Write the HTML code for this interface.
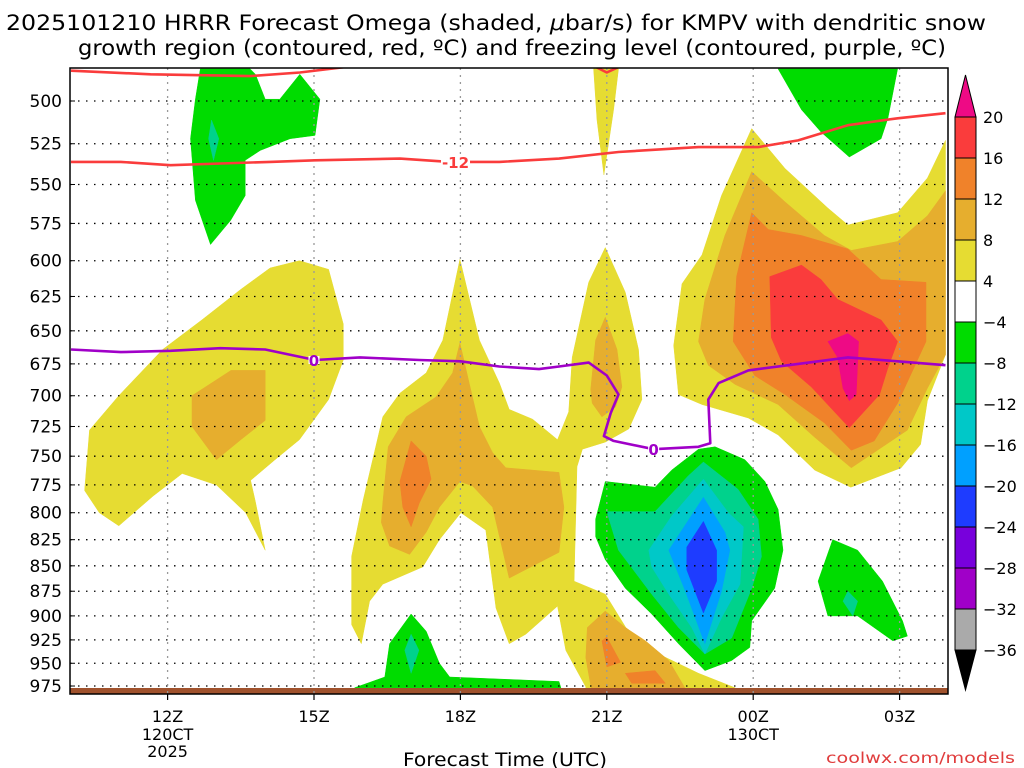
<!DOCTYPE html>
<html><head><meta charset="utf-8"><style>
html,body{margin:0;padding:0;background:#fff;}
svg{display:block;font-family:"DejaVu Sans","Liberation Sans",sans-serif;}
</style></head><body>
<svg id="chart" width="1024" height="768" xmlns="http://www.w3.org/2000/svg">
<text x="6" y="30" font-size="21" textLength="980" lengthAdjust="spacingAndGlyphs" fill="#000">2025101210 HRRR Forecast Omega (shaded, <tspan font-style="italic">μ</tspan>bar/s) for KMPV with dendritic snow</text>
<text x="78" y="55" font-size="21" textLength="868" lengthAdjust="spacingAndGlyphs" fill="#000">growth region (contoured, red, ºC) and freezing level (contoured, purple, ºC)</text>
<g id="plot"></g>
<text x="505" y="766" font-size="19" text-anchor="middle" textLength="204" lengthAdjust="spacingAndGlyphs">Forecast Time (UTC)</text>
<text x="826" y="763" font-size="15" fill="#e03c3c" textLength="189" lengthAdjust="spacingAndGlyphs">coolwx.com/models</text>
</svg>
<script>
const pressureTicks=[500,525,550,575,600,625,650,675,700,725,750,775,800,825,850,875,900,925,950,975];
const timeTicks=[12,15,18,21,24,27];
const timeLabels=["12Z","15Z","18Z","21Z","00Z","03Z"];
const dateLabels={12:["120CT","2025"],24:["130CT"]};
const cbLevels=[20,16,12,8,4,-4,-8,-12,-16,-20,-24,-28,-32,-36];
const cbColors=["#fa3c3c","#f0822a","#e6ae2e","#e6dc32","#ffffff","#00dc00","#00d28c","#00c8c8","#00a0ff","#1e3cff","#7800dc","#a000c8","#aaaaaa"];

const yellowLeft=[[10.3,780],[10.4,728],[11.0,700],[11.9,664],[12.7,642],[13.5,620],[14.1,605],[14.7,600],[15.3,606],[15.6,645],[15.6,672],[15.3,703],[14.7,736],[14.2,753],[13.7,771],[13.8,790],[14.0,835],[13.6,800],[13.0,775],[12.3,765],[11.7,785],[11.0,812],[10.6,800]];
const goldLeft=[[12.5,700],[13.3,680],[14.0,680],[14.0,720],[13.5,736],[13.0,753],[12.5,725]];
const greenTopLeft=[[12.67,482],[12.57,499],[12.47,522],[12.57,560],[12.88,589],[13.29,573],[13.59,557],[13.59,535],[13.9,529],[14.51,522],[15.02,520],[15.12,499],[14.71,485],[14.3,499],[14.0,499],[13.8,485],[13.69,482]];
const tealTopLeft=[[12.9,511],[13.05,522],[12.94,535],[12.84,522]];
const yellowMid=[[15.97,929],[15.77,909],[15.77,841],[16.01,788],[16.41,717],[16.76,698],[17.3,682],[17.64,657],[17.99,599],[18.39,657],[18.8,690],[19.0,711],[19.48,719],[19.99,736],[20.22,713],[20.29,670],[20.63,615],[20.97,591],[21.38,622],[21.65,664],[21.72,703],[21.45,727],[20.97,738],[20.5,744],[20.39,759],[20.33,865],[20.97,878],[21.39,912],[22.06,940],[22.88,961],[23.63,977],[23.63,984],[20.57,984],[20.57,976],[20.16,936],[19.99,890],[19.34,919],[19.0,929],[18.73,892],[18.52,816],[18.01,800],[17.57,825],[17.23,851],[16.41,868],[16.14,885]];
const goldMid=[[16.41,791],[16.52,742],[16.89,717],[17.5,701],[17.84,682],[17.99,659],[18.18,690],[18.39,725],[18.66,747],[18.93,760],[20.02,764],[20.12,795],[20.02,837],[19.0,862],[18.66,795],[18.25,776],[17.99,772],[17.57,795],[17.3,818],[16.96,839],[16.55,831],[16.38,809]];
const orangeMid=[[16.76,772],[16.99,737],[17.3,750],[17.4,770],[17.16,791],[16.99,813],[16.82,795]];
const gold21=[[20.67,695],[20.77,657],[20.97,640],[21.21,664],[21.31,693],[21.18,709],[20.9,717],[20.7,706]];
const yellowTop21=[[20.73,482],[21.24,482],[21.14,505],[20.94,544],[20.8,511]];
const goldBottom=[[20.6,912],[20.97,895],[21.38,912],[21.79,926],[22.27,947],[22.61,978],[22.61,984],[20.7,984],[20.57,944]];
const orangeBottomA=[[20.9,926],[21.0,922],[21.28,949],[21.0,954]];
const orangeBottomB=[[21.38,961],[21.99,958],[22.2,972],[21.51,972]];
const greenBlob=[[20.77,806],[20.97,772],[21.99,777],[22.33,762],[22.88,744],[23.22,742],[23.83,753],[24.24,772],[24.51,797],[24.61,835],[24.44,872],[23.97,905],[23.93,933],[23.56,947],[23.01,958],[22.47,929],[21.92,898],[21.38,872],[20.97,844],[20.77,822]];
const tealBlob=[[21.0,799],[21.99,799],[22.67,767],[22.98,755],[23.69,779],[24.1,806],[24.17,841],[23.97,872],[23.56,923],[23.01,940],[22.47,912],[21.92,878],[21.24,835]];
const cyanBlob=[[21.86,835],[22.33,803],[22.98,770],[23.49,800],[23.8,813],[23.73,868],[23.35,902],[23.01,940],[22.74,912],[22.27,878],[21.92,851]];
const lightBlueBlob=[[22.27,835],[22.98,786],[23.42,818],[23.52,835],[23.35,875],[23.01,929],[22.61,875]];
const blueBlob=[[22.98,808],[23.25,835],[23.25,865],[22.98,897],[22.64,854],[22.64,832]];
const yellowRight=[[22.47,699],[22.37,661],[22.54,616],[22.95,596],[23.35,557],[23.97,516],[24.65,540],[25.53,565],[25.94,576],[26.96,568],[27.57,546],[27.94,523],[27.94,668],[27.57,704],[27.43,740],[27.03,760],[26.0,777],[25.26,762],[24.51,732],[23.9,718],[22.95,707]];
const goldRight=[[22.88,658],[23.01,627],[23.42,583],[23.97,542],[24.65,561],[25.46,583],[26.01,593],[26.96,587],[27.57,570],[27.94,554],[27.94,668],[27.57,694],[27.16,728],[26.01,760],[25.26,734],[24.51,707],[23.63,691],[23.08,676]];
const orangeRight=[[23.59,658],[23.66,611],[23.97,568],[24.31,579],[24.99,583],[25.94,592],[26.62,613],[27.54,615],[27.54,658],[26.96,706],[26.48,737],[26.01,745],[25.46,722],[24.65,699],[24.03,684]];
const redRight=[[24.34,611],[24.99,603],[25.39,613],[25.73,627],[26.62,642],[26.96,658],[26.76,678],[26.59,699],[25.97,726],[25.19,693],[24.58,673],[24.37,655]];
const pinkRight=[[25.53,658],[25.94,652],[26.16,658],[26.11,699],[25.97,704],[25.84,694],[25.73,670]];
const greenTopRight=[[24.51,482],[26.96,482],[26.76,510],[26.62,522],[25.97,533],[25.39,518],[24.99,505]];
const greenBottom17=[[16.55,929],[16.99,898],[17.3,916],[17.57,950],[17.78,965],[20.02,970],[20.06,977],[15.83,977],[16.45,965]];
const tealBottom17=[[16.99,919],[17.15,936],[16.99,961],[16.86,936]];
const greenRight02=[[25.63,825],[26.14,835],[26.65,865],[27.06,905],[27.16,921],[26.86,926],[26.14,900],[25.53,900],[25.33,865]];
const tealRight02=[[25.94,875],[26.14,885],[26.04,900],[25.84,885]];

const dgzLine=[[10.02,536],[11.04,536],[12.06,538],[13.08,537],[14.1,536],[15.02,535],[16.76,534],[17.78,536],[18.8,536],[20.02,534],[21.24,530],[22.88,527],[24.1,527],[24.92,523],[25.94,514],[26.96,510],[27.94,507]];
const dgzTopLine=[[10.02,483],[11.65,485],[13.69,486],[14.71,484],[15.63,481]];
const dgzTopLine21=[[20.78,481],[21.0,484],[21.24,481]];
const freezeLine=[[10.02,664],[11.04,666],[12.06,665],[13.08,663],[14.0,664],[15.02,672],[15.94,670],[17.16,672],[18.0,673],[18.8,677],[19.61,679],[20.02,677],[20.63,674],[21.0,684],[21.24,699],[21.08,714],[20.94,733],[21.14,737],[21.96,744],[22.88,742],[23.12,739],[23.08,703],[23.29,690],[23.9,680],[24.92,675],[25.94,670],[26.96,673],[27.94,676]];
const contourLabels=[[17.9,536,"-12","#fa3c3c"],[15.0,672,"0","#a000c8"],[21.96,744,"0","#a000c8"]];

const X0=70,X1=948,Y0=68,Y1=694;
function xs(h){return X0+(h-10)*48.8;}
function ys(p){return 101+876*Math.log(p/500);}
const NS="http://www.w3.org/2000/svg";
const plot=document.getElementById('plot');
function mk(tag,attrs,parent){const e=document.createElementNS(NS,tag);for(const k in attrs)e.setAttribute(k,attrs[k]);(parent||plot).appendChild(e);return e;}
function pts(arr){return arr.map(d=>xs(d[0]).toFixed(1)+","+ys(d[1]).toFixed(1)).join(" ");}

const clip=mk('clipPath',{id:'pc'});
mk('rect',{x:X0,y:Y0,width:X1-X0,height:Y1-Y0},clip);
const shade=mk('g',{'clip-path':'url(#pc)'});



const layers=[
 [yellowLeft,"#e6dc32","yellow-left"],[goldLeft,"#e6ae2e","gold-left"],
 [greenTopLeft,"#00dc00","green-top-left"],[tealTopLeft,"#00d28c","teal-top-left"],
 [yellowMid,"#e6dc32","yellow-mid"],[goldMid,"#e6ae2e","gold-mid"],[orangeMid,"#f0822a","orange-mid"],
 [gold21,"#e6ae2e","gold-21z"],[yellowTop21,"#e6dc32","yellow-top-21z"],
 [goldBottom,"#e6ae2e","gold-bottom"],[orangeBottomA,"#f0822a","orange-bottom-a"],[orangeBottomB,"#f0822a","orange-bottom-b"],
 [greenBlob,"#00dc00","green-blob"],[tealBlob,"#00d28c","teal-blob"],[cyanBlob,"#00c8c8","cyan-blob"],[lightBlueBlob,"#00a0ff","lightblue-blob"],[blueBlob,"#1e3cff","blue-blob"],
 [yellowRight,"#e6dc32","yellow-right"],[goldRight,"#e6ae2e","gold-right"],[orangeRight,"#f0822a","orange-right"],[redRight,"#fa3c3c","red-right"],[pinkRight,"#ee0a85","pink-right"],
 [greenTopRight,"#00dc00","green-top-right"],[greenBottom17,"#00dc00","green-bottom-17z"],[tealBottom17,"#00d28c","teal-bottom-17z"],
 [greenRight02,"#00dc00","green-right-02z"],[tealRight02,"#00d28c","teal-right-02z"]
];
layers.forEach(l=>{
 const e=mk('polygon',{points:pts(l[0]),fill:l[1],'stroke':l[1],'stroke-width':0.5,'stroke-linejoin':'round'},shade);
 
 
});

const gb=mk('rect',{x:X0,y:688,width:X1-X0,height:6,fill:'#a0522d'});



pressureTicks.forEach(p=>{
 const y=ys(p);
 const g=mk('line',{x1:X0,x2:X1,y1:y,y2:y,stroke:'#000','stroke-width':1.3,'stroke-dasharray':'1.5 6.5'});
 
 
 const t=mk('line',{x1:X0,x2:X0+5,y1:y,y2:y,stroke:'#000','stroke-width':1});
 
 
 const lb=mk('text',{x:62,y:y+6,'font-size':17,'text-anchor':'end'});
 lb.textContent=p;
 
 
});
timeTicks.forEach((h,i)=>{
 const x=xs(h);
 const g=mk('line',{x1:x,x2:x,y1:Y0,y2:Y1,stroke:'#999','stroke-width':1.3,'stroke-dasharray':'2 5'});
 
 
 const t=mk('line',{x1:x,x2:x,y1:Y1,y2:Y1+6,stroke:'#000','stroke-width':1.2});
 
 
 const lb=mk('text',{x:x,y:722,'font-size':16,'text-anchor':'middle'});
 lb.textContent=timeLabels[i];
 
 
 (dateLabels[h]||[]).forEach((s,j)=>{
  const d=mk('text',{x:x,y:740+j*17,'font-size':16,'text-anchor':'middle'});
  d.textContent=s;
  
  
 });
});

const cl=mk('g',{'clip-path':'url(#pc)'});


[[dgzLine,'#fa3c3c','dgz-contour-minus12'],[dgzTopLine,'#fa3c3c','dgz-contour-top'],[dgzTopLine21,'#fa3c3c','dgz-contour-top-21z'],[freezeLine,'#a000c8','freezing-level-contour']].forEach(c=>{
 const e=mk('polyline',{points:pts(c[0]),fill:'none',stroke:c[1],'stroke-width':2.6,'stroke-linejoin':'round'},cl);
 
 
});
contourLabels.forEach(c=>{
 const x=xs(c[0]),y=ys(c[1]);
 const w=c[2].length*9+2;
 mk('rect',{x:x-w/2,y:y-4,width:w,height:8,fill:'#fff'},cl);
 const t=mk('text',{x:x,y:y+6,'font-size':15,'font-weight':'bold','text-anchor':'middle',fill:c[3]},cl);
 t.textContent=c[2];
 
 
});

const fr=mk('rect',{x:X0,y:Y0,width:X1-X0,height:Y1-Y0,fill:'none',stroke:'#000','stroke-width':1.5});



const cb=mk('g',{});


const CBX=955,CBW=21,CBT=117,CBS=41;
const tri=mk('polygon',{points:`${CBX},${CBT} ${CBX+CBW},${CBT} ${CBX+CBW/2},75`,fill:'#ee0a85',stroke:'#000','stroke-width':1},cb);


cbColors.forEach((c,i)=>{
 const r=mk('rect',{x:CBX,y:CBT+i*CBS,width:CBW,height:CBS,fill:c,stroke:'#000','stroke-width':1},cb);
 
 
});
const bot=CBT+cbColors.length*CBS;
const tri2=mk('polygon',{points:`${CBX},${bot} ${CBX+CBW},${bot} ${CBX+CBW/2},${bot+40}`,fill:'#000',stroke:'#000','stroke-width':1},cb);


cbLevels.forEach((v,i)=>{
 const t=mk('text',{x:983,y:CBT+i*CBS+6,'font-size':16},cb);
 t.textContent=v<0?('\u2212'+Math.abs(v)):String(v);
 
 
});
</script>
</body></html>
